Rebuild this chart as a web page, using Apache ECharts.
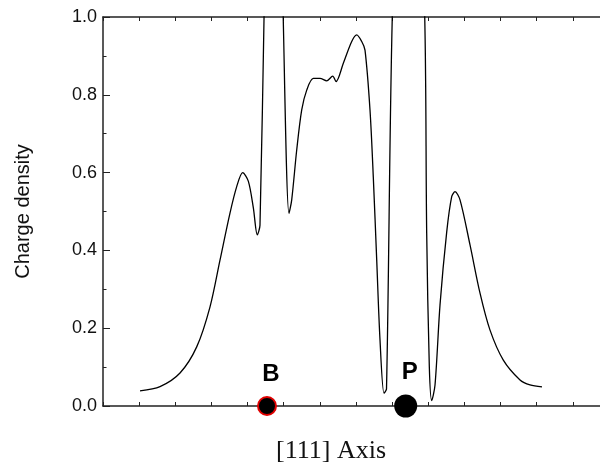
<!DOCTYPE html>
<html>
<head>
<meta charset="utf-8">
<script src="https://cdn.jsdelivr.net/npm/echarts@6/dist/echarts.min.js"></script>
<style>html,body{margin:0;padding:0;background:#fff}#c{width:600px;height:468px}</style>
</head>
<body>
<div id="c"></div>
<script>
// position along [111] axis (arbitrary units) and charge density
var axisPos = [1.014,1.562,2.110,2.567,2.932,3.205,3.479,3.663,3.827,3.981,4.118,4.227,4.301,4.422,4.671,4.923,5.096,5.170,5.307,5.444,5.581,5.762,5.945,6.129,6.293,6.384,6.584,6.814,6.951,7.088,7.178,7.315,7.405,7.499,7.589,7.699,7.767,7.940,8.356,8.800,8.868,8.940,9.005,9.096,9.233,9.416,9.553,9.644,9.781,10.055,10.329,10.603,10.967,11.425,11.699,12.027];
var density = [0.039,0.050,0.085,0.152,0.255,0.375,0.496,0.564,0.600,0.578,0.510,0.440,0.465,1.053,2.0,1.057,0.495,0.530,0.658,0.761,0.812,0.842,0.842,0.836,0.848,0.834,0.881,0.937,0.954,0.937,0.915,0.761,0.589,0.375,0.170,0.033,0.044,1.054,2.0,1.054,0.445,0.101,0.014,0.054,0.260,0.447,0.538,0.551,0.530,0.414,0.290,0.195,0.118,0.067,0.054,0.049];
var siteNames = ['B','P'];
var sitePos = [4.493,8.293];
var siteDensity = [0,0];
var yTicks = [0.0,0.2,0.4,0.6,0.8,1.0];
var xRange = [0, 13.616];
var xTickStep = 0.99;

var SANS = "'Liberation Sans', Arial, Helvetica, sans-serif";
var SERIF = "'Liberation Serif', 'Times New Roman', serif";
var chart = echarts.init(document.getElementById('c'), null, {renderer:'canvas'});
var lineData = axisPos.map(function(x,i){return [x,density[i]];});
var axisLineStyle = {color:'#222', width:1.5};
var xAxisCommon = {
  type:'value', min:xRange[0], max:xRange[1], interval:xTickStep,
  axisLine:{show:true, onZero:false, lineStyle:axisLineStyle},
  axisTick:{show:true, inside:true, length:4, lineStyle:{color:'#222', width:1}},
  axisLabel:{show:false}, splitLine:{show:false}
};
chart.setOption({
  animation:false,
  backgroundColor:'#fff',
  grid:{left:103, top:17, right:0, bottom:62, containLabel:false},
  xAxis:[
    Object.assign({position:'bottom'}, xAxisCommon),
    Object.assign({position:'top'}, xAxisCommon)
  ],
  yAxis:{
    type:'value', min:yTicks[0], max:yTicks[yTicks.length-1], interval:0.2,
    axisLine:{show:true, lineStyle:axisLineStyle},
    axisTick:{show:true, inside:true, length:7, lineStyle:{color:'#222', width:1}},
    minorTick:{show:true, splitNumber:2, length:3.5, lineStyle:{color:'#222', width:1}},
    axisLabel:{formatter:function(v){return v.toFixed(1);}, fontFamily:SANS, fontSize:18, color:'#111', margin:6},
    splitLine:{show:false},
    name:'Charge density', nameLocation:'middle', nameGap:70, nameRotate:90,
    nameTextStyle:{fontFamily:SANS, fontSize:20, color:'#111'}
  },
  graphic:[{
    type:'text', x:331, y:451,
    style:{text:'[111] Axis', fontFamily:SERIF, fontSize:26, fill:'#111', textAlign:'center', textVerticalAlign:'middle'}
  }],
  series:[
    {
      type:'line', data:lineData, showSymbol:false, clip:true,
      smooth:0.3,
      lineStyle:{color:'#000', width:1.3}, z:3
    },
    {
      type:'scatter', clip:false, z:5,
      data:[
        {value:[sitePos[0],siteDensity[0]], name:siteNames[0], symbolSize:18,
         itemStyle:{color:'#000', opacity:1, borderColor:'#e00000', borderWidth:2}},
        {value:[sitePos[1],siteDensity[1]], name:siteNames[1], symbolSize:23,
         itemStyle:{color:'#000', opacity:1, borderWidth:0}}
      ],
      label:{show:true, position:'top', distance:10, offset:[4,0], formatter:'{b}', fontFamily:SANS, fontWeight:'bold', fontSize:24, color:'#000'}
    }
  ]
});
</script>
</body>
</html>
